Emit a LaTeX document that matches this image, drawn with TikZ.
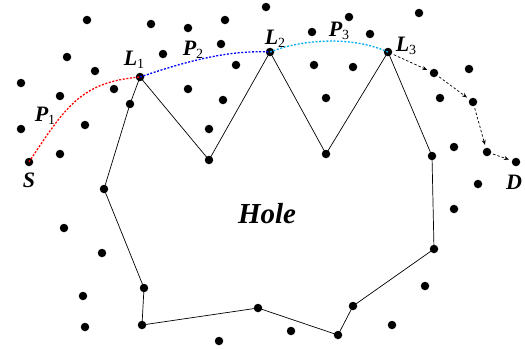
\documentclass[tikz,border=0pt]{standalone}
\usepackage{fontspec}
\setmainfont{Liberation Serif}
\usetikzlibrary{arrows.meta}
\tikzset{
  pt/.style={circle,fill=black,inner sep=0pt,minimum size=8.5pt},
  lab/.style={inner sep=0pt,font=\fontsize{22}{22}\selectfont\bfseries\itshape},
  edge/.style={draw=black,line width=0.7pt},
  pth/.style={line width=1.3pt,dash pattern=on 2pt off 1.6pt},
  hop/.style={draw=black,line width=0.7pt,dash pattern=on 2.5pt off 2pt,-{Stealth[length=5pt,width=4pt]},shorten >=3pt,shorten <=2pt}
}
\newcommand{\subnum}[1]{{\fontsize{14}{14}\selectfont\mdseries\upshape\raisebox{-3pt}{#1}}}
\begin{document}
\begin{tikzpicture}[x=1pt,y=-1pt]
\useasboundingbox (0,0) rectangle (525,349);
% hole vertices
\node[pt] (L1) at (140,77) {};
\node[pt] (h1) at (209,160) {};
\node[pt] (L2) at (270,52) {};
\node[pt] (h2) at (326,154) {};
\node[pt] (L3) at (388,52) {};
\node[pt] (h3) at (432,156) {};
\node[pt] (h4) at (434,249) {};
\node[pt] (h5) at (353,306) {};
\node[pt] (h6) at (338,335) {};
\node[pt] (h7) at (258,308) {};
\node[pt] (h8) at (142,325) {};
\node[pt] (h9) at (144,288) {};
\node[pt] (h10) at (104,189) {};
\node[pt] (h11) at (130,104) {};
% path nodes
\node[pt] (S) at (29,162) {};
\node[pt] (r1) at (434,73) {};
\node[pt] (r2) at (473,102) {};
\node[pt] (r3) at (487,152) {};
\node[pt] (D) at (516,162) {};
% other sensors
\foreach \x/\y [count=\i] in {87/20,151/24,188/28,67/57,163/54,95/71,21/83,114/89,188/89,60/96,21/129,85/125,60/154,
  266/7,225/20,349/17,312/32,370/34,221/44,236/65,314/65,353/67,223/100,326/98,209/129,
  419/13,469/69,440/98,454/147,478/184,
  64/228,102/253,83/296,85/327,219/341,454/209,425/286,392/325,291/331}
  {\node[pt] (n\i) at (\x,\y) {};}
% hole boundary
\draw[edge] (L1.center) -- (h1.center) -- (L2.center) -- (h2.center) -- (L3.center) -- (h3.center) -- (h4.center) -- (h5.center) -- (h6.center) -- (h7.center) -- (h8.center) -- (h9.center) -- (h10.center) -- (h11.center) -- (L1.center);
% paths
\draw[pth,red] (S.center) .. controls (65,108) and (80,82) .. (L1.center);
\draw[pth,blue] (L1.center) .. controls (190,60) and (230,50) .. (L2.center);
\draw[pth,cyan] (L2.center) .. controls (300,40) and (350,35) .. (L3.center);
\draw[hop] (L3) -- (r1);
\draw[hop] (r1) -- (r2);
\draw[hop] (r2) -- (r3);
\draw[hop] (r3) -- (D);
% labels
\node[lab] (tS) at (29,180) {S};
\node[lab] (tP1) at (45,116) {P\subnum{1}};
\node[lab] (tL1) at (134,60) {L\subnum{1}};
\node[lab] (tP2) at (193,50) {P\subnum{2}};
\node[lab] (tL2) at (275,39) {L\subnum{2}};
\node[lab] (tP3) at (339,31) {P\subnum{3}};
\node[lab] (tL3) at (406,46) {L\subnum{3}};
\node[lab] (tD) at (514,182) {D};
\node[lab,font=\fontsize{29}{29}\selectfont\bfseries\itshape] (hole) at (267,214) {Hole};
\end{tikzpicture}
\end{document}
